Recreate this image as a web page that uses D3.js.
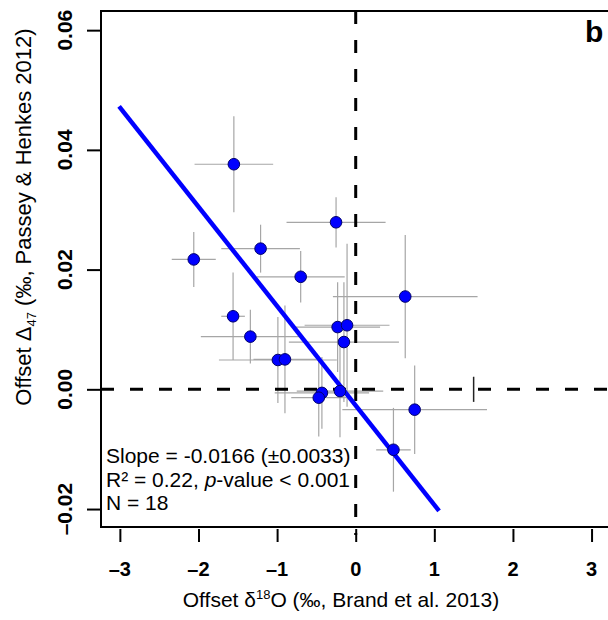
<!DOCTYPE html>
<html>
<head>
<meta charset="utf-8">
<script src="https://cdn.jsdelivr.net/npm/d3@7"></script>
<style>
  body { margin: 0; background: #fff; }
  svg { display: block; font-family: "Liberation Sans", Arial, sans-serif; }
</style>
</head>
<body>
<div id="chart"></div>
<script>
// offsets
const d18O = [-1.55, -0.25, -2.06, -1.21, -0.70, 0.63, -1.56, -1.34, -0.23, -0.11, -0.15, -0.99, -0.90, -0.43, -0.47, -0.20, 0.75, 0.48];
const d47 = [0.0376, 0.0279, 0.0217, 0.0235, 0.0188, 0.0155, 0.0122, 0.0088, 0.0104, 0.0107, 0.0079, 0.0049, 0.0050, -0.0006, -0.0014, -0.0003, -0.0034, -0.0101];
const d18OErr = [0.50, 0.63, 0.28, 0.50, 0.56, 0.92, 0.15, 0.63, 0.54, 0.54, 0.70, 0.75, 0.40, 0.60, 0.35, 0.55, 0.92, 0.22];
const d47Err = [0.0080, 0.0042, 0.0046, 0.0040, 0.0043, 0.0103, 0.0073, 0.0045, 0.0075, 0.0136, 0.0100, 0.0072, 0.0090, 0.0060, 0.0065, 0.0077, 0.0074, 0.0070];

const xTicks = [-3, -2, -1, 0, 1, 2, 3];
const yTicks = [-0.02, 0.00, 0.02, 0.04, 0.06];

const slope = -0.0166;
const intercept = -0.0027;
const fitRange = [-3.01, 1.06];

// lone error mark on the zero line
const loneMark = { x: 1.5, y: 0, err: 0.0021 };

const width = 608, height = 620;
const box = { left: 101, right: 623, top: 11, bottom: 527 };

const svg = d3.select("#chart").append("svg")
  .attr("width", width)
  .attr("height", height);

const x = d3.scaleLinear().domain([-3.24, 3.4]).range([box.left, box.right]);
const y = d3.scaleLinear().domain([-0.0230, 0.0632]).range([box.bottom, box.top]);

const pts = d18O.map((d, i) => ({ x: d, y: d47[i], ex: d18OErr[i], ey: d47Err[i] }));

// error bars
const eb = svg.append("g").attr("stroke", "#a6a6a6").attr("stroke-width", 1.2);
eb.selectAll(".ex").data(pts).join("line")
  .attr("x1", d => x(d.x - d.ex)).attr("x2", d => x(d.x + d.ex))
  .attr("y1", d => y(d.y)).attr("y2", d => y(d.y));
eb.selectAll(".ey").data(pts).join("line")
  .attr("x1", d => x(d.x)).attr("x2", d => x(d.x))
  .attr("y1", d => y(d.y - d.ey)).attr("y2", d => y(d.y + d.ey));

// zero reference lines
svg.append("line")
  .attr("x1", box.left).attr("x2", box.right)
  .attr("y1", y(0)).attr("y2", y(0))
  .attr("stroke", "#000").attr("stroke-width", 3)
  .attr("stroke-dasharray", "13,16");
svg.append("line")
  .attr("x1", x(0)).attr("x2", x(0))
  .attr("y1", box.top).attr("y2", box.bottom + 8)
  .attr("stroke", "#000").attr("stroke-width", 3)
  .attr("stroke-dasharray", "13,16");

svg.append("line")
  .attr("x1", x(loneMark.x)).attr("x2", x(loneMark.x))
  .attr("y1", y(loneMark.y - loneMark.err)).attr("y2", y(loneMark.y + loneMark.err))
  .attr("stroke", "#222").attr("stroke-width", 1.5);

// regression line
svg.append("line")
  .attr("x1", x(fitRange[0])).attr("y1", y(intercept + slope * fitRange[0]))
  .attr("x2", x(fitRange[1])).attr("y2", y(intercept + slope * fitRange[1]))
  .attr("stroke", "#0000ff").attr("stroke-width", 4.5);

// points
svg.selectAll(".dot").data(pts).join("circle")
  .attr("class", "dot")
  .attr("cx", d => x(d.x)).attr("cy", d => y(d.y))
  .attr("r", 5.8)
  .attr("fill", "#0000ff")
  .attr("stroke", "#00006a").attr("stroke-width", 1);

// plot box
svg.append("rect")
  .attr("x", box.left).attr("y", box.top)
  .attr("width", box.right - box.left).attr("height", box.bottom - box.top)
  .attr("fill", "none").attr("stroke", "#000").attr("stroke-width", 2);

// x axis
svg.append("g")
  .attr("transform", `translate(0, ${box.bottom + 2})`)
  .call(d3.axisBottom(x).tickValues(xTicks).tickSize(13).tickFormat(""))
  .call(g => g.select(".domain").remove())
  .call(g => g.selectAll(".tick line").attr("stroke", "#000").attr("stroke-width", 2));

svg.selectAll(".xlab").data(xTicks).join("text")
  .attr("class", "xlab")
  .attr("x", d => x(d)).attr("y", 576)
  .attr("text-anchor", "middle")
  .attr("font-size", 20).attr("font-weight", "bold")
  .text(d => (d < 0 ? "\u2013" : "") + Math.abs(d));

// y axis
svg.append("g")
  .attr("transform", `translate(${box.left - 1}, 0)`)
  .call(d3.axisLeft(y).tickValues(yTicks).tickSize(13).tickFormat(""))
  .call(g => g.select(".domain").remove())
  .call(g => g.selectAll(".tick line").attr("stroke", "#000").attr("stroke-width", 2));

svg.selectAll(".ylab").data(yTicks).join("text")
  .attr("class", "ylab")
  .attr("transform", d => `translate(72, ${y(d)}) rotate(-90)`)
  .attr("text-anchor", "middle")
  .attr("font-size", 21).attr("font-weight", "bold")
  .text(d => (d < 0 ? "\u2013" : "") + d3.format(".2f")(Math.abs(d)));

// axis titles
const xt = svg.append("text")
  .attr("x", 341).attr("y", 607)
  .attr("text-anchor", "middle")
  .attr("font-size", 21);
xt.append("tspan").text("Offset \u03b4");
xt.append("tspan").attr("font-size", 13).attr("dy", -8).text("18");
xt.append("tspan").attr("dy", 8).text("O (\u2030, Brand et al. 2013)");

const yt = svg.append("text")
  .attr("transform", "translate(31, 217) rotate(-90)")
  .attr("text-anchor", "middle")
  .attr("font-size", 22);
yt.append("tspan").text("Offset \u0394");
yt.append("tspan").attr("font-size", 13).attr("dy", 5).text("47");
yt.append("tspan").attr("dy", -5).text(" (\u2030, Passey & Henkes 2012)");

// panel letter
svg.append("text")
  .attr("x", 585).attr("y", 42)
  .attr("font-size", 30).attr("font-weight", "bold")
  .text("b");

// stats annotation
const ann = svg.append("g").attr("font-size", 21);
ann.append("text").attr("x", 106).attr("y", 463).text("Slope = -0.0166 (\u00b10.0033)");
const r2 = ann.append("text").attr("x", 106).attr("y", 486.5);
r2.append("tspan").text("R\u00b2 = 0.22, ");
r2.append("tspan").attr("font-style", "italic").text("p");
r2.append("tspan").text("-value < 0.001");
ann.append("text").attr("x", 106).attr("y", 510).text("N = 18");
</script>
</body>
</html>
